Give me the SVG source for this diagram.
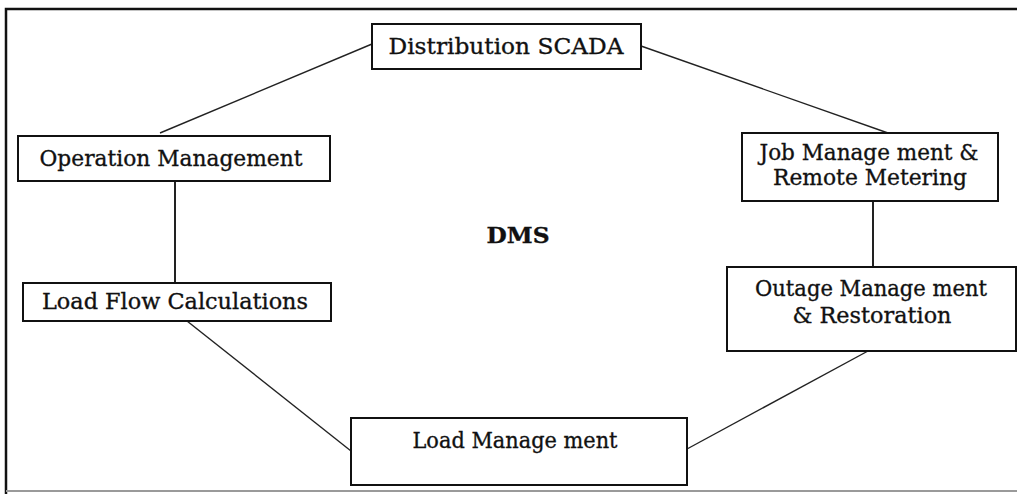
<svg xmlns="http://www.w3.org/2000/svg" width="1017" height="494" viewBox="0 0 1017 494">
  <style>
    .box { fill: #ffffff; stroke: #111111; stroke-width: 2; }
    .lbl { font-family: "DejaVu Serif", "Liberation Serif", serif; font-size: 23px; fill: #111111; stroke: #111111; stroke-width: 0.35; text-anchor: middle; }
    .link { stroke: #222222; stroke-width: 1.4; fill: none; }
    .link.v { stroke-width: 2; }
  </style>
  <rect width="1017" height="494" fill="#ffffff"/>
  <!-- outer frame -->
  <path d="M6,494 V9 H1017" fill="none" stroke="#111111" stroke-width="2.5"/>
  <path d="M6,491 H1017" fill="none" stroke="#9a9a9a" stroke-width="2"/>

  <g id="connectors">
    <line class="link" x1="372" y1="44" x2="160" y2="133"/>
    <line class="link" x1="641" y1="46" x2="888" y2="133"/>
    <line class="link v" x1="175" y1="181" x2="175" y2="283"/>
    <line class="link v" x1="873" y1="201" x2="873" y2="267"/>
    <line class="link" x1="187" y1="321" x2="351" y2="451"/>
    <line class="link" x1="868" y1="351" x2="687" y2="449"/>
  </g>

  <g id="scada">
    <rect class="box" x="372" y="24" width="269" height="45"/>
    <text class="lbl" x="506" y="54" textLength="235" lengthAdjust="spacingAndGlyphs">Distribution SCADA</text>
  </g>

  <g id="operation">
    <rect class="box" x="18" y="136" width="312" height="45"/>
    <text class="lbl" x="171" y="166" textLength="263" lengthAdjust="spacingAndGlyphs">Operation Management</text>
  </g>

  <g id="job">
    <rect class="box" x="742" y="133" width="256" height="68"/>
    <text class="lbl" x="869" y="160" textLength="219" lengthAdjust="spacingAndGlyphs">Job Manage ment &amp;</text>
    <text class="lbl" x="870" y="185" textLength="194" lengthAdjust="spacingAndGlyphs">Remote Metering</text>
  </g>

  <g id="dms">
    <text class="lbl" x="518" y="243" font-weight="bold" textLength="63" lengthAdjust="spacingAndGlyphs">DMS</text>
  </g>

  <g id="loadflow">
    <rect class="box" x="23" y="283" width="308" height="38"/>
    <text class="lbl" x="175" y="309" textLength="266" lengthAdjust="spacingAndGlyphs">Load Flow Calculations</text>
  </g>

  <g id="outage">
    <rect class="box" x="727" y="267" width="289" height="84"/>
    <text class="lbl" x="871" y="296" textLength="232" lengthAdjust="spacingAndGlyphs">Outage Manage ment</text>
    <text class="lbl" x="872" y="323" textLength="159" lengthAdjust="spacingAndGlyphs">&amp; Restoration</text>
  </g>

  <g id="loadmgmt">
    <rect class="box" x="351" y="418" width="336" height="67"/>
    <text class="lbl" x="515" y="448" textLength="205" lengthAdjust="spacingAndGlyphs">Load Manage ment</text>
  </g>
</svg>
